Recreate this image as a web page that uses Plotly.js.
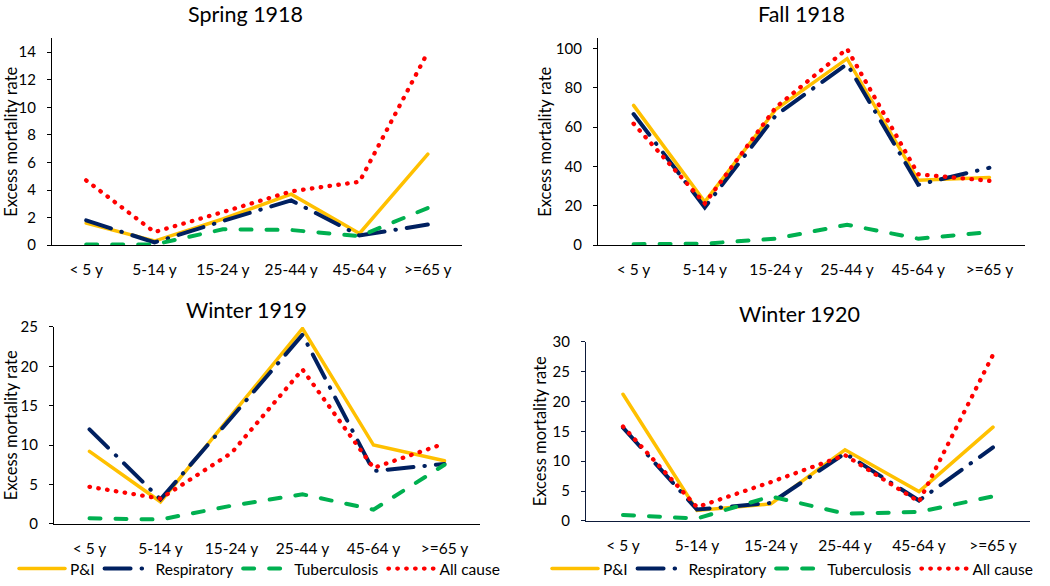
<!DOCTYPE html>
<html>
<head>
<meta charset="utf-8">
<script src="https://cdn.plot.ly/plotly-3.0.1.min.js"></script>
<style>
html,body{margin:0;padding:0;background:#fff;}
#chart{width:1050px;height:586px;}
.scatterlayer path.js-line, .legendlines path{stroke-linecap:round;}
</style>
</head>
<body>
<div id="chart"></div>
<script>
// ---- Data ----
const ageGroups = ['< 5 y', '5-14 y', '15-24 y', '25-44 y', '45-64 y', '>=65 y'];
const seriesNames = ['P&I', 'Respiratory', 'Tuberculosis', 'All cause'];
const panelTitles = ['Spring 1918', 'Fall 1918', 'Winter 1919', 'Winter 1920'];

const spring1918_PI   = [1.6, 0.3, 1.9, 3.7, 0.85, 6.6];
const spring1918_Resp = [1.8, 0.2, 1.75, 3.25, 0.7, 1.5];
const spring1918_TB   = [0.05, 0.05, 1.15, 1.1, 0.65, 2.7];
const spring1918_All  = [4.7, 0.95, 2.4, 3.9, 4.6, 14.0];

const fall1918_PI   = [71, 22, 69, 94.7, 33, 34.4];
const fall1918_Resp = [66.6, 19.2, 66, 92, 30.7, 39.3];
const fall1918_TB   = [0.5, 0.8, 3.3, 10.4, 3.3, 6.6];
const fall1918_All  = [61.7, 21.2, 70, 99.7, 36, 32.7];

const winter1919_PI   = [9.2, 2.8, 13.8, 24.8, 10.0, 8.0];
const winter1919_Resp = [12.0, 3.1, 13.5, 24.0, 6.7, 7.6];
const winter1919_TB   = [0.7, 0.55, 2.3, 3.75, 1.8, 7.5];
const winter1919_All  = [4.7, 3.2, 9.0, 19.6, 7.1, 10.2];

const winter1920_PI   = [21.2, 1.75, 2.85, 11.9, 4.9, 15.7];
const winter1920_Resp = [15.6, 1.9, 3.0, 11.3, 3.4, 12.3];
const winter1920_TB   = [1.0, 0.4, 4.1, 1.2, 1.5, 4.1];
const winter1920_All  = [15.8, 2.3, 6.5, 11.0, 3.2, 27.8];

const yAxisTitle = 'Excess mortality rate';

// ---- Styles ----
const W = 1050, H = 586;
const FONT = 'Lato, "Open Sans", sans-serif';
const lineStyles = [
  {color: '#FFC000', width: 3.5, dash: 'solid'},
  {color: '#002060', width: 4, dash: '26px,11px,0.5px,11px'},
  {color: '#00B050', width: 4, dash: '11px,15px'},
  {color: '#FF0000', width: 4.3, dash: '0.5px,8.4px'}
];

const panels = [
  {data: [spring1918_PI, spring1918_Resp, spring1918_TB, spring1918_All], px: [52, 462], py: [39, 249], range: [0, 15], dtick: 2, legend: null, title: [245, 14], ytitleX: 11, line: '#000000'},
  {data: [fall1918_PI, fall1918_Resp, fall1918_TB, fall1918_All], px: [598, 1025], py: [39, 249], range: [0, 105], dtick: 20, legend: null, title: [801, 14], ytitleX: 545, line: '#000000'},
  {data: [winter1919_PI, winter1919_Resp, winter1919_TB, winter1919_All], px: [54, 480], py: [332, 532], range: [0, 25], dtick: 5, legend: 'legend', title: [246, 315], ytitleX: 11, line: '#000000'},
  {data: [winter1920_PI, winter1920_Resp, winter1920_TB, winter1920_All], px: [586, 1030], py: [347, 529], range: [0, 30], dtick: 5, legend: 'legend2', title: [799, 319], ytitleX: 540, line: '#0d1a3a'}
];

const legendBase = {orientation: 'h', xanchor: 'left', yanchor: 'middle', y: 1 - 578 / H,
  font: {family: FONT, size: 15.5, color: '#000'}, bgcolor: 'rgba(0,0,0,0)', itemwidth: 46, tracegroupgap: 0};

const traces = [];
const layout = {
  width: W, height: H,
  margin: {l: 0, r: 0, t: 0, b: 0},
  paper_bgcolor: '#ffffff', plot_bgcolor: '#ffffff',
  font: {family: FONT, size: 15, color: '#000000'},
  showlegend: true,
  annotations: [],
  legend: Object.assign({}, legendBase, {x: 14 / W}),
  legend2: Object.assign({}, legendBase, {x: 547 / W})
};

panels.forEach((p, i) => {
  const n = i === 0 ? '' : String(i + 1);
  const xa = 'x' + n, ya = 'y' + n;
  p.data.forEach((vals, s) => {
    const st = lineStyles[s];
    const tr = {
      type: 'scatter', mode: 'lines', x: ageGroups, y: vals,
      name: seriesNames[s], xaxis: xa, yaxis: ya,
      line: {color: st.color, width: st.width, dash: st.dash},
      hoverinfo: 'x+y+name',
      showlegend: !!p.legend
    };
    if (p.legend) tr.legend = p.legend;
    traces.push(tr);
  });
  layout['xaxis' + n] = {
    domain: [p.px[0] / W, p.px[1] / W], anchor: ya,
    type: 'category', range: [-0.5, 5.5],
    showline: true, linecolor: p.line, linewidth: 1.3,
    showgrid: false, zeroline: false, ticks: '',
    tickfont: {family: FONT, size: 15.5, color: '#000'},
    ticklabelstandoff: 10, fixedrange: true
  };
  layout['yaxis' + n] = {
    domain: [1 - p.py[1] / H, 1 - p.py[0] / H], anchor: xa,
    range: p.range, dtick: p.dtick, tick0: 0,
    showline: true, linecolor: p.line, linewidth: 1.3,
    showgrid: false, zeroline: false,
    ticks: 'outside', ticklen: 4, tickcolor: p.line, tickwidth: 1.3,
    tickfont: {family: FONT, size: 15, color: '#000'},
    ticklabelstandoff: 8,
    fixedrange: true
  };
  layout.annotations.push({
    text: panelTitles[i], xref: 'paper', yref: 'paper',
    x: p.title[0] / W, y: 1 - p.title[1] / H, xanchor: 'center', yanchor: 'middle',
    showarrow: false, borderpad: 0, font: {family: FONT, size: 21.5, color: '#000'}
  });
  layout.annotations.push({
    text: yAxisTitle, xref: 'paper', yref: 'paper', textangle: -90,
    x: p.ytitleX / W, y: 1 - ((p.py[0] + p.py[1]) / 2) / H, xanchor: 'center', yanchor: 'middle',
    showarrow: false, borderpad: 0, font: {family: FONT, size: 16.5, color: '#000'}
  });
});

Plotly.newPlot('chart', traces, layout, {displayModeBar: false});
</script>
</body>
</html>
